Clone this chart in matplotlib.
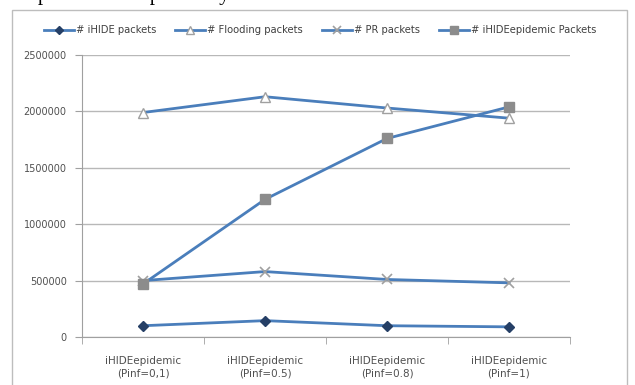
import matplotlib
matplotlib.use("Agg")
import matplotlib.pyplot as plt
from matplotlib.patches import Rectangle

categories = ["iHIDEepidemic\n(Pinf=0,1)", "iHIDEepidemic\n(Pinf=0.5)",
              "iHIDEepidemic\n(Pinf=0.8)", "iHIDEepidemic\n(Pinf=1)"]
ihide = [100000, 145000, 100000, 90000]
flooding = [1990000, 2130000, 2030000, 1940000]
pr = [500000, 580000, 510000, 480000]
ihide_epi = [470000, 1220000, 1760000, 2040000]
yticks = [0, 500000, 1000000, 1500000, 2000000, 2500000]

W, H = 635, 385
fig = plt.figure(figsize=(W / 100, H / 100), dpi=100)
fig.patch.set_facecolor("white")

# outer chart frame
fig.patches.append(Rectangle((12 / W, -0.01), 615 / W, (H - 10) / H + 0.01,
                             transform=fig.transFigure, fill=False,
                             edgecolor="#bdbdbd", linewidth=1.0))
# clipped document text above the chart (only its lower part is visible)
fig.text(38 / W, 1.011, "panda was captured by the hunter.", family="Liberation Serif",
         fontsize=15, va="center", ha="left", color="black")

ax = fig.add_axes([82 / W, 1 - 337 / H, (570 - 82) / W, (337 - 55) / H])
x = list(range(len(categories)))
blue = "#4a7ebb"

ax.plot(x, ihide, color=blue, lw=2, marker="D", ms=5, mfc="#253f66", mec="#253f66",
        label="# iHIDE packets")
ax.plot(x, flooding, color=blue, lw=2, marker="^", ms=7, mfc="white", mec="#a0a0a0",
        label="# Flooding packets")
ax.plot(x, pr, color=blue, lw=2, marker="x", ms=7, mec="#a0a0a0", mew=1.2,
        label="# PR packets")
ax.plot(x, ihide_epi, color=blue, lw=2, marker="s", ms=6.5, mfc="#8c8c8c", mec="#8c8c8c",
        label="# iHIDEepidemic Packets")

ax.set_xlim(-0.5, len(categories) - 0.5)
ax.set_ylim(0, 2500000)
ax.set_yticks(yticks)
ax.set_yticklabels([str(v) for v in yticks])
ax.set_xticks(x)
ax.set_xticklabels(categories)
ax.set_xticks([i - 0.5 for i in range(len(categories) + 1)], minor=True)
ax.tick_params(axis="x", which="major", length=0, pad=14, labelsize=7.5, labelcolor="#505050")
ax.tick_params(axis="x", which="minor", length=5, color="#a0a0a0")
ax.tick_params(axis="y", length=5, color="#a0a0a0", labelsize=7, labelcolor="#505050", pad=6)
ax.grid(axis="y", color="#b8b8b8", lw=1)
ax.set_axisbelow(True)
for s in ["top", "right"]:
    ax.spines[s].set_visible(False)
for s in ["left", "bottom"]:
    ax.spines[s].set_color("#a0a0a0")

leg = fig.legend(loc="center", bbox_to_anchor=(320 / W, 1 - 30 / H), ncol=4, frameon=False,
                 fontsize=7.2, handlelength=3.0, columnspacing=1.9, handletextpad=0.2,
                 markerscale=0.8)
for t in leg.get_texts():
    t.set_color("#404040")

fig.savefig("out.png", dpi=100)
